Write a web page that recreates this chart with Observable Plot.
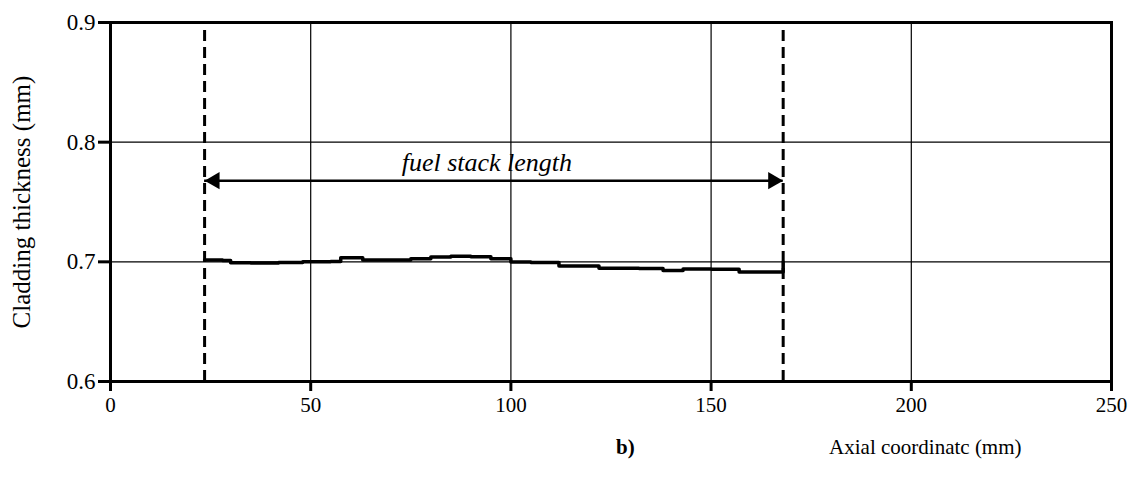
<!DOCTYPE html>
<html>
<head>
<meta charset="utf-8">
<script src="https://cdn.jsdelivr.net/npm/d3@7"></script>
<script src="https://cdn.jsdelivr.net/npm/@observablehq/plot@0.6"></script>
<style>
  body { margin: 0; background: #fff; }
  #chart svg { display: block; }
</style>
</head>
<body>
<div id="chart"></div>
<script>
// Axial coordinate (mm) and cladding thickness (mm)
const axialMm = [23.5, 28, 30, 35, 42, 48, 55, 57.5, 60, 63, 70, 75, 80, 85, 90, 95, 100, 105, 112, 122, 132, 138, 143, 150, 157, 168, 168];
const thicknessMm = [0.7015, 0.7012, 0.6993, 0.6990, 0.6995, 0.7000, 0.7002, 0.7035, 0.7034, 0.7015, 0.7015, 0.7025, 0.7040, 0.7047, 0.7042, 0.7025, 0.6998, 0.6995, 0.6965, 0.6947, 0.6945, 0.6928, 0.6940, 0.6938, 0.6915, 0.6915, 0.6998];

// Fuel stack boundaries (mm)
const fuelStackBounds = [23.5, 168];
const fuelArrowLevel = 0.7678;
const fuelLabel = "fuel stack length";

const xTicks = [0, 50, 100, 150, 200, 250];
const yTicks = [0.6, 0.7, 0.8, 0.9];
const xGrid = [50, 100, 150, 200];
const yGrid = [0.7, 0.8];

const xLabel = "Axial coordinatc (mm)";
const yLabel = "Cladding thickness (mm)";
const panelLabel = "b)";

const data = axialMm.map((x, i) => ({x, y: thicknessMm[i]}));

const font = "Liberation Serif, Times New Roman, serif";

const chart = Plot.plot({
  width: 1140,
  height: 480,
  marginLeft: 110,
  marginRight: 29,
  marginTop: 22,
  marginBottom: 99,
  style: {fontFamily: font, fontSize: "21px", color: "#000", background: "#fff", overflow: "visible"},
  x: {domain: [0, 250]},
  y: {domain: [0.6, 0.9]},
  marks: [
    Plot.ruleX(xGrid, {stroke: "#000", strokeWidth: 1.2}),
    Plot.ruleY(yGrid, {stroke: "#000", strokeWidth: 1.2}),
    Plot.frame({stroke: "#000", strokeWidth: 3}),
    Plot.axisY({ticks: yTicks, tickSize: 12, tickPadding: 3, tickFormat: d3.format(".1f"), strokeWidth: 3,
      label: null, fontSize: 23}),
    Plot.axisY({ticks: [], label: yLabel, labelAnchor: "center", labelArrow: "none", labelOffset: 98, fontSize: 25}),
    Plot.axisX({ticks: xTicks, tickSize: 10, tickPadding: 6, strokeWidth: 3, label: null, fontSize: 21}),
    Plot.ruleX(fuelStackBounds, {y1: 0.6, y2: 0.9, stroke: "#000", strokeWidth: 3, strokeDasharray: "11,6"}),
    Plot.line(data, {x: "x", y: "y", curve: "step-after", stroke: "#000", strokeWidth: 3.5}),
    Plot.ruleY([fuelArrowLevel], {x1: fuelStackBounds[0], x2: fuelStackBounds[1], stroke: "#000", strokeWidth: 2.5}),
    Plot.dot([fuelStackBounds[0]], {x: d => d, y: fuelArrowLevel, dx: 10, symbol: "triangle", rotate: -90, r: 6.4, fill: "#000", stroke: "none"}),
    Plot.dot([fuelStackBounds[1]], {x: d => d, y: fuelArrowLevel, dx: -10, symbol: "triangle", rotate: 90, r: 6.4, fill: "#000", stroke: "none"}),
    Plot.text([fuelLabel], {x: 94, y: 0.7825, text: d => d, fontStyle: "italic", fontSize: 26}),
    Plot.text([panelLabel], {x: 128.6, y: 0.6, dy: 66, text: d => d, fontSize: 21, fontWeight: "bold"}),
    Plot.text([xLabel], {x: 203.5, y: 0.6, dy: 66, text: d => d, fontSize: 21})
  ]
});
document.getElementById("chart").append(chart);
</script>
</body>
</html>
